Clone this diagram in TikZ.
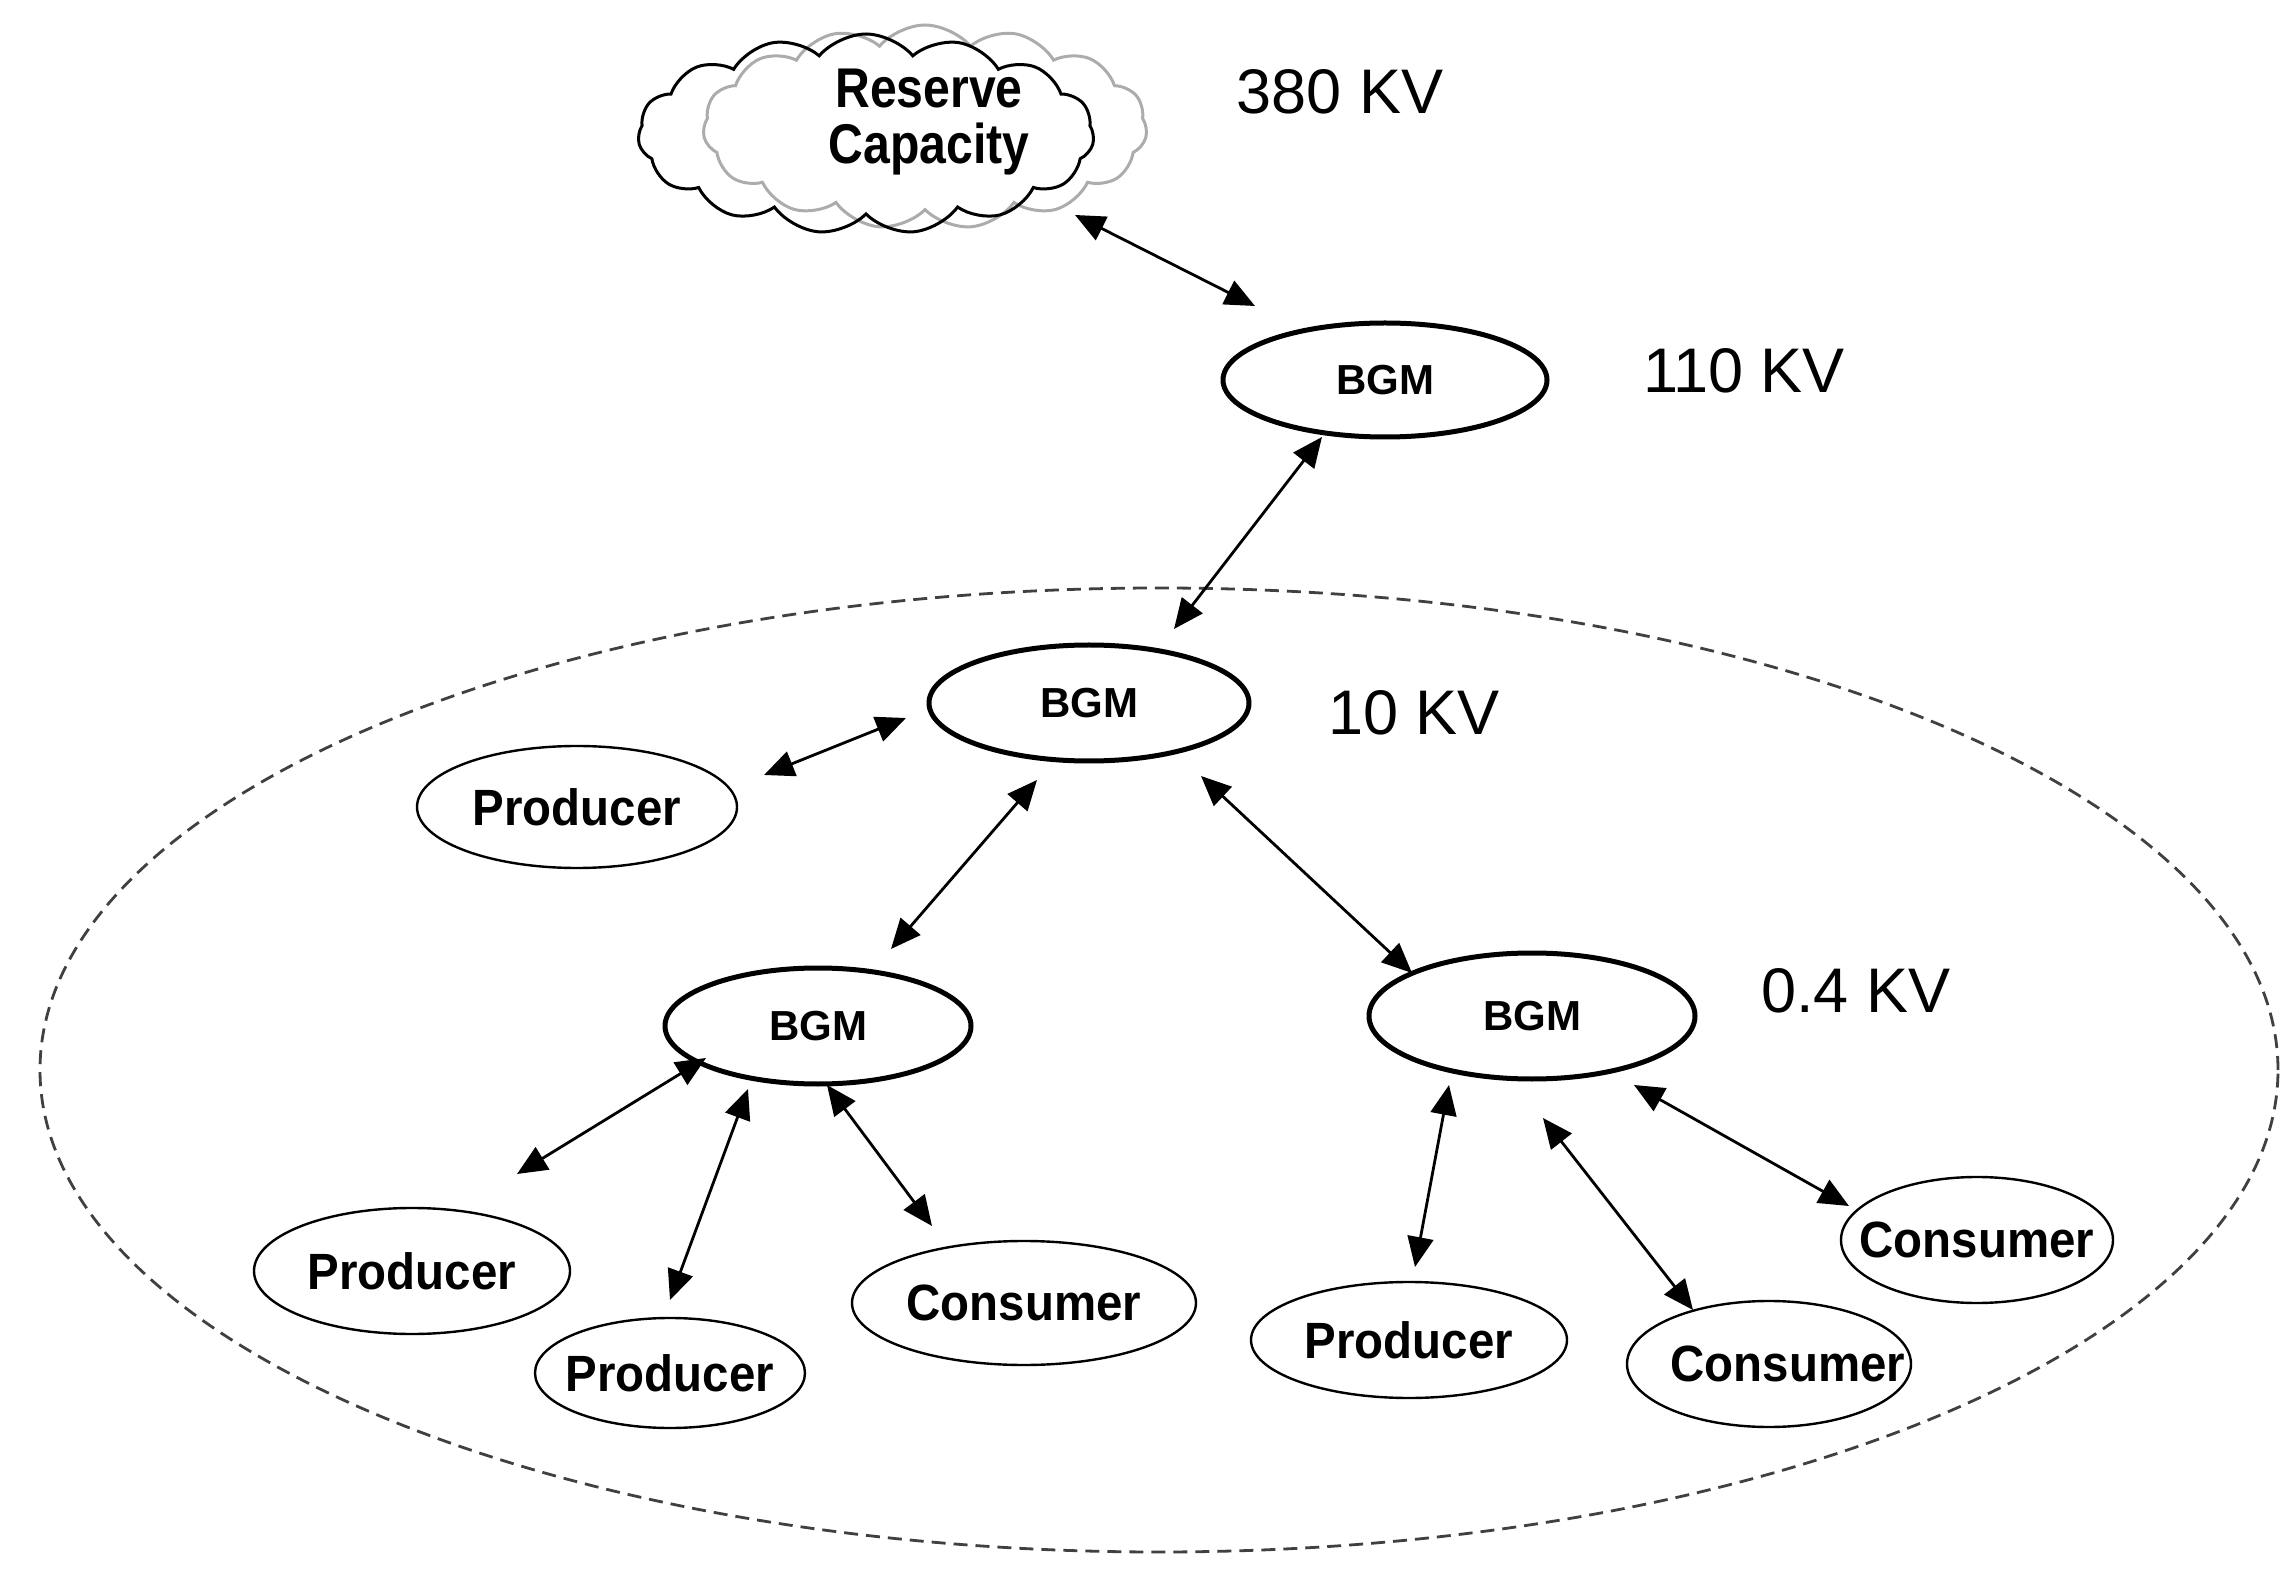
\documentclass[tikz,border=0pt]{standalone}
\usepackage{fontspec}
\setmainfont{Liberation Sans}
\newfontfamily\condbold[FakeStretch=0.86]{Liberation Sans Bold}
\newfontfamily\leafbold[FakeStretch=0.93]{Liberation Sans Bold}
\usetikzlibrary{shapes.geometric,shapes.symbols,arrows.meta}
\begin{document}
\begin{tikzpicture}[x=0.5pt,y=-0.5pt,
  arr/.style={{Triangle[length=15pt,width=13pt]}-{Triangle[length=15pt,width=13pt]}, line width=1.4pt},
  bgm/.style={ellipse, draw, line width=2.5pt, inner sep=0pt, font=\bfseries\fontsize{21}{21}\selectfont},
  leaf/.style={ellipse, draw, line width=1.2pt, inner ysep=0pt, inner xsep=-30pt, font=\leafbold\fontsize{25.5}{25.5}\selectfont},
  kv/.style={font=\fontsize{31.5}{31.5}\selectfont, inner sep=0pt, anchor=base},
  zone/.style={ellipse, draw=gray!50!black, dash pattern=on 7pt off 4pt, line width=1.4pt},
  cloudshape/.style={cloud, cloud puffs=15, cloud puff arc=100, aspect=2.2, line width=1.5pt}]
\useasboundingbox (0,0) rectangle (2283,1593);

% dashed region
\node[zone, minimum width=1119pt, minimum height=482pt] (region) at (1159,1070) {};

% clouds
\node[cloudshape, draw=gray!65, minimum width=222pt, minimum height=102pt] (cloudB) at (925,127) {};
\node[cloudshape, draw, minimum width=228pt, minimum height=100pt] (cloud) at (866,134) {};
\node[align=center, inner sep=0pt, font=\condbold\fontsize{28}{28}\selectfont] (rc) at (929,122) {Reserve\\Capacity};

% BGM nodes
\node[bgm, minimum width=162pt, minimum height=57pt] (bgmT) at (1385,380) {BGM};
\node[bgm, minimum width=160pt, minimum height=58pt] (bgmM) at (1089,703) {BGM};
\node[bgm, minimum width=153pt, minimum height=58pt] (bgmL) at (818,1026) {BGM};
\node[bgm, minimum width=163pt, minimum height=63pt] (bgmR) at (1532,1016) {BGM};

% leaves
\node[leaf, minimum width=160pt, minimum height=61pt] (prodU) at (577,807) {Producer};
\node[leaf, minimum width=158pt, minimum height=63pt] (prodLL) at (412,1271) {Producer};
\node[leaf, minimum width=135pt, minimum height=55pt] (prodLM) at (670,1373) {Producer};
\node[leaf, minimum width=172pt, minimum height=62pt] (consL) at (1024,1303) {Consumer};
\node[leaf, minimum width=158pt, minimum height=58pt] (prodR) at (1409,1340) {Producer};
\node[leaf, minimum width=142pt, minimum height=63pt] (consRM) at (1769,1364) {\hspace*{19pt}Consumer};
\node[leaf, minimum width=136pt, minimum height=63pt] (consRR) at (1977,1240) {Consumer};

% voltage labels
\node[kv] (v380) at (1340,114) {380 KV};
\node[kv] (v110) at (1744,393) {110 KV};
\node[kv] (v10) at (1414,735) {10 KV};
\node[kv] (v04) at (1856,1012) {0.4 KV};

% connector ends
\coordinate (c1a) at (1075,215); \coordinate (c1b) at (1255,306);
\coordinate (c2a) at (1322,437); \coordinate (c2b) at (1174,629);
\coordinate (c3a) at (906,718);  \coordinate (c3b) at (764,775);
\coordinate (c4a) at (1037,780); \coordinate (c4b) at (891,949);
\coordinate (c5a) at (1201,776); \coordinate (c5b) at (1412,973);
\coordinate (c6a) at (706,1058); \coordinate (c6b) at (517,1174);
\coordinate (c7a) at (748,1089); \coordinate (c7b) at (670,1300);
\coordinate (c8a) at (827,1085); \coordinate (c8b) at (932,1226);
\coordinate (c9a) at (1449,1085); \coordinate (c9b) at (1415,1267);
\coordinate (c10a) at (1543,1118); \coordinate (c10b) at (1693,1310);
\coordinate (c11a) at (1634,1085); \coordinate (c11b) at (1849,1206);

\draw[arr] (c1a) -- (c1b);
\draw[arr] (c2a) -- (c2b);
\draw[arr] (c3a) -- (c3b);
\draw[arr] (c4a) -- (c4b);
\draw[arr] (c5a) -- (c5b);
\draw[arr] (c6a) -- (c6b);
\draw[arr] (c7a) -- (c7b);
\draw[arr] (c8a) -- (c8b);
\draw[arr] (c9a) -- (c9b);
\draw[arr] (c10a) -- (c10b);
\draw[arr] (c11a) -- (c11b);
\end{tikzpicture}
\end{document}
